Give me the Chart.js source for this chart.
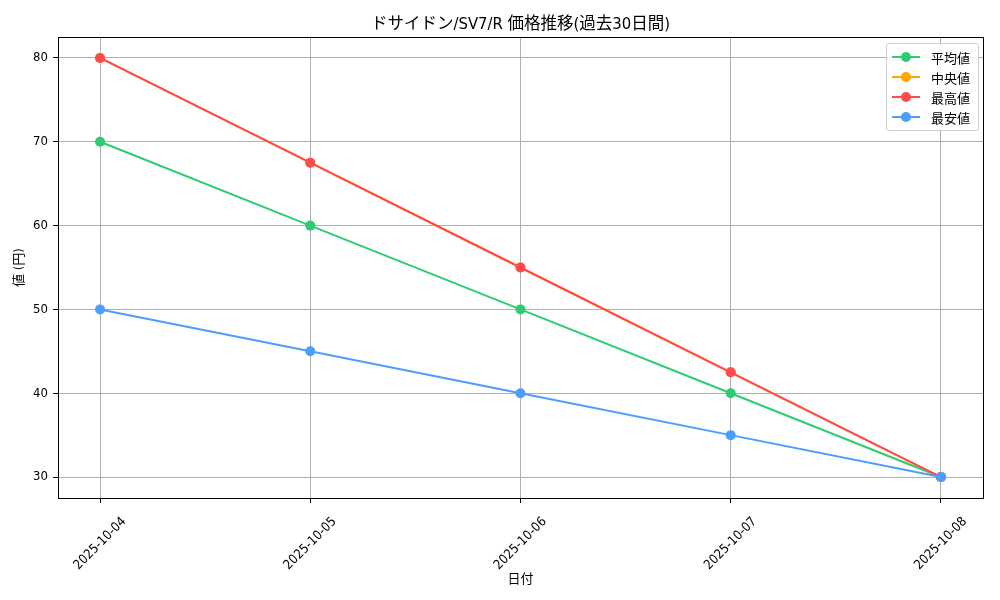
<!DOCTYPE html>
<html>
<head>
<meta charset="utf-8">
<script src="https://cdn.jsdelivr.net/npm/chart.js@4/dist/chart.umd.min.js"></script>
<style>
  html, body { margin: 0; padding: 0; background: #fff; }
  #wrap { position: relative; width: 1000px; height: 600px; font-family: 'DejaVu Sans Condensed', 'Noto Sans CJK JP', sans-serif; }
  #chartTitle { position: absolute; left: 58px; width: 925px; top: 10px; text-align: center; font-size: 16.5px; color: #000; }
  #legend { position: absolute; left: 886px; top: 43px; width: 91px; padding: 3px 0; border: 1px solid #d0d0d0; border-radius: 3px; background: rgba(255,255,255,0.85); }
  .item { display: flex; align-items: center; height: 20px; font-size: 13px; }
  .swatch { position: relative; width: 28px; height: 10px; margin: 0 11px 0 5px; }
  .swatch .ln { position: absolute; left: 0; right: 0; top: 4px; height: 2px; }
  .swatch .dot { position: absolute; left: 9px; top: 0; width: 10px; height: 10px; border-radius: 50%; }
</style>
</head>
<body>
<div id="wrap">
  <canvas id="priceChart" width="1000" height="600"></canvas>
  <div id="chartTitle">ドサイドン/SV7/R 価格推移(過去30日間)</div>
  <div id="legend"></div>
</div>
<script>
  const dates = ['2025-10-04', '2025-10-05', '2025-10-06', '2025-10-07', '2025-10-08'];
  const avgPrices = [70, 60, 50, 40, 30];
  const medianPrices = [80, 67.5, 55, 42.5, 30];
  const maxPrices = [80, 67.5, 55, 42.5, 30];
  const minPrices = [50, 45, 40, 35, 30];
  const yTicks = [30, 40, 50, 60, 70, 80];

  const fontFamily = "'DejaVu Sans Condensed', 'Noto Sans CJK JP', sans-serif";

  const series = [
    { label: '平均値', data: avgPrices, color: '#2ecc71', order: 4 },
    { label: '中央値', data: medianPrices, color: '#ffa500', order: 3 },
    { label: '最高値', data: maxPrices, color: '#ff4b4b', order: 2 },
    { label: '最安値', data: minPrices, color: '#4a9eff', order: 1 }
  ];

  // legend box (top right, inside the plot)
  const legendBox = document.getElementById('legend');
  series.forEach(s => {
    const item = document.createElement('div');
    item.className = 'item';
    item.innerHTML = '<span class="swatch"><span class="ln" style="background:' + s.color + '"></span>' +
      '<span class="dot" style="background:' + s.color + '"></span></span><span>' + s.label + '</span>';
    legendBox.appendChild(item);
  });

  const datasets = series.map(s => ({
    label: s.label,
    data: s.data.map((v, i) => ({ x: i, y: v })),
    borderColor: s.color,
    backgroundColor: s.color,
    pointBackgroundColor: s.color,
    pointBorderWidth: 0,
    pointRadius: 5,
    borderWidth: 2,
    tension: 0,
    order: s.order
  }));

  const gridColor = '#b0b0b0';

  // full black frame round the plot area
  const frame = {
    id: 'frame',
    afterDraw(chart) {
      const { ctx, chartArea: a } = chart;
      ctx.save();
      ctx.strokeStyle = '#000';
      ctx.lineWidth = 1;
      ctx.strokeRect(Math.round(a.left) + 0.5, Math.round(a.top) + 0.5, Math.round(a.right - a.left), Math.round(a.bottom - a.top));
      ctx.restore();
    }
  };

  new Chart(document.getElementById('priceChart').getContext('2d'), {
    type: 'line',
    data: { datasets: datasets },
    plugins: [frame],
    options: {
      responsive: false,
      animation: false,
      layout: { padding: { top: 37, right: 17, bottom: 0, left: 0 } },
      plugins: {
        legend: { display: false },
        title: { display: false },
        tooltip: { enabled: false }
      },
      scales: {
        x: {
          type: 'linear',
          min: -0.2,
          max: 4.2,
          afterBuildTicks: scale => { scale.ticks = dates.map((_, i) => ({ value: i })); },
          afterFit: scale => { scale.height = 102; },
          border: { display: true, color: '#000', width: 1 },
          grid: { color: gridColor, lineWidth: 1, tickLength: 5, tickColor: '#000' },
          ticks: {
            callback: v => dates[v],
            minRotation: 45,
            maxRotation: 45,
            labelOffset: 24,
            padding: 11,
            color: '#000',
            font: { family: fontFamily, size: 13 }
          },
          title: {
            display: true,
            text: '日付',
            color: '#000',
            font: { family: fontFamily, size: 13 },
            padding: { top: 0, bottom: 13 }
          }
        },
        y: {
          min: 27.5,
          max: 82.5,
          afterBuildTicks: scale => { scale.ticks = yTicks.map(v => ({ value: v })); },
          afterFit: scale => { scale.width = 58; },
          border: { display: true, color: '#000', width: 1 },
          grid: { color: gridColor, lineWidth: 1, tickLength: 5, tickColor: '#000' },
          ticks: {
            padding: 5,
            color: '#000',
            font: { family: fontFamily, size: 13 }
          },
          title: {
            display: true,
            text: '値 (円)',
            color: '#000',
            font: { family: fontFamily, size: 13 },
            padding: { top: 12, bottom: 0 }
          }
        }
      }
    }
  });
</script>
</body>
</html>
